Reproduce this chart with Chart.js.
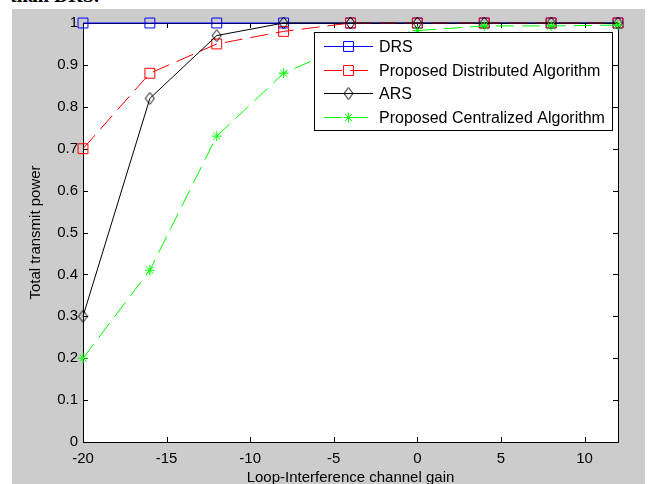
<!DOCTYPE html>
<html>
<head>
<meta charset="utf-8">
<script src="https://cdn.jsdelivr.net/npm/chart.js@4.4.1/dist/chart.umd.min.js"></script>
<style>
html, body { margin: 0; padding: 0; width: 653px; height: 484px; overflow: hidden; background: #fff; }
#caption { position: absolute; left: 10px; top: -16px; font: bold 20px "Liberation Serif", serif; color: #000; white-space: nowrap; }
#chart { position: absolute; left: 12px; top: 9px; background: #cccccc; }
</style>
</head>
<body>
<div id="caption">than DRS.</div>
<canvas id="chart" width="633" height="500"></canvas>
<script>

var xValues = [-20, -16, -12, -8, -4, 0, 4, 8, 12];
var drsPower = [1, 1, 1, 1, 1, 1, 1, 1, 1];
var distributedPower = [0.70, 0.88, 0.95, 0.98, 1, 1, 1, 1, 1];
var arsPower = [0.30, 0.82, 0.97, 1, 1, 1, 1, 1, 1];
var centralizedPower = [0.20, 0.41, 0.73, 0.88, 0.95, 0.982, 0.993, 0.993, 0.995];
var seriesNames = ['DRS', 'Proposed Distributed Algorithm', 'ARS', 'Proposed Centralized Algorithm'];

var xTicks = [-20, -15, -10, -5, 0, 5, 10];
var yTicks = [0, 0.1, 0.2, 0.3, 0.4, 0.5, 0.6, 0.7, 0.8, 0.9, 1];
var yTickLabels = ['0', '0.1', '0.2', '0.3', '0.4', '0.5', '0.6', '0.7', '0.8', '0.9', '1'];

Chart.defaults.font.family = '"Liberation Sans", Arial, sans-serif';
Chart.defaults.font.size = 15;
Chart.defaults.color = '#000';

// matlab style diamond, taller than wide
function makeDiamond() {
    var c = document.createElement('canvas');
    c.width = 11;
    c.height = 14;
    var g = c.getContext('2d');
    g.strokeStyle = '#000';
    g.lineWidth = 1;
    g.beginPath();
    g.moveTo(5.5, 1);
    g.lineTo(10, 7);
    g.lineTo(5.5, 13);
    g.lineTo(1, 7);
    g.closePath();
    g.stroke();
    return c;
}

function toPoints(values) {
    return xValues.map(function (x, i) {
        return { x: x, y: values[i] };
    });
}

function makeSeries(name, values, color, dash, style, radius, order) {
    return {
        label: name,
        data: toPoints(values),
        borderColor: color,
        borderWidth: 1,
        borderDash: dash,
        pointStyle: style,
        pointRadius: radius,
        pointBorderColor: color,
        pointBackgroundColor: 'rgba(0,0,0,0)',
        pointBorderWidth: 1,
        tension: 0,
        clip: false,
        order: order
    };
}

var plotFrame = {
    id: 'plotFrame',
    beforeDraw: function (chart) {
        var a = chart.chartArea, ctx = chart.ctx;
        ctx.save();
        ctx.fillStyle = '#ffffff';
        ctx.fillRect(a.left, a.top, a.right - a.left, a.bottom - a.top);
        ctx.restore();
    },
    beforeDatasetsDraw: function (chart) {
        var a = chart.chartArea, ctx = chart.ctx;
        var xs = chart.scales.x, ys = chart.scales.y;
        ctx.save();
        ctx.strokeStyle = '#000';
        ctx.lineWidth = 1;
        ctx.strokeRect(a.left + 0.5, a.top + 0.5, a.right - a.left, a.bottom - a.top);
        ctx.beginPath();
        xs.ticks.forEach(function (t) {
            var px = Math.round(xs.getPixelForValue(t.value)) + 0.5;
            ctx.moveTo(px, a.bottom);
            ctx.lineTo(px, a.bottom - 5);
            ctx.moveTo(px, a.top);
            ctx.lineTo(px, a.top + 5);
        });
        ys.ticks.forEach(function (t) {
            var py = Math.round(ys.getPixelForValue(t.value)) + 0.5;
            ctx.moveTo(a.left, py);
            ctx.lineTo(a.left + 5, py);
            ctx.moveTo(a.right, py);
            ctx.lineTo(a.right - 5, py);
        });
        ctx.stroke();
        ctx.restore();
    }
};

var boxLegend = {
    id: 'boxLegend',
    afterDatasetsDraw: function (chart) {
        var a = chart.chartArea, ctx = chart.ctx;
        var left = a.right - 304, top = a.top + 9, w = 298, h = 98;
        ctx.save();
        ctx.fillStyle = '#fff';
        ctx.fillRect(left, top, w, h);
        ctx.strokeStyle = '#000';
        ctx.lineWidth = 1;
        ctx.strokeRect(left + 0.5, top + 0.5, w, h);
        chart.data.datasets.forEach(function (ds, i) {
            var y = Math.round(top + 14 + i * 23.7) + 0.5;
            ctx.strokeStyle = ds.borderColor;
            ctx.setLineDash(ds.borderDash || []);
            ctx.beginPath();
            ctx.moveTo(left + 10, y);
            ctx.lineTo(left + 59, y);
            ctx.stroke();
            ctx.setLineDash([]);
            ctx.fillStyle = 'rgba(0,0,0,0)';
            Chart.helpers.drawPoint(ctx, {
                pointStyle: ds.pointStyle,
                radius: ds.pointRadius,
                borderWidth: 1,
                rotation: 0
            }, left + 34.5, y);
            ctx.fillStyle = '#000';
            ctx.font = '16px "Liberation Sans", Arial, sans-serif';
            ctx.textBaseline = 'middle';
            ctx.textAlign = 'left';
            ctx.fillText(ds.label, left + 65, y + 1);
        });
        ctx.restore();
    }
};

var ctx = document.getElementById('chart').getContext('2d');
var myChart = new Chart(ctx, {
    type: 'line',
    data: {
        datasets: [
            makeSeries(seriesNames[0], drsPower, '#0000ff', [], 'rect', 7, 3),
            makeSeries(seriesNames[1], distributedPower, '#ff0000', [18, 8], 'rect', 7, 2),
            makeSeries(seriesNames[2], arsPower, '#000000', [], makeDiamond(), 6, 1),
            makeSeries(seriesNames[3], centralizedPower, '#00ff00', [18, 8], 'star', 5, 0)
        ]
    },
    options: {
        responsive: false,
        animation: false,
        devicePixelRatio: 1,
        layout: { padding: { top: 13, right: 27, left: 0, bottom: 0 } },
        plugins: {
            legend: { display: false },
            tooltip: { enabled: false }
        },
        scales: {
            x: {
                type: 'linear',
                min: -20,
                max: 12,
                afterBuildTicks: function (s) {
                    s.ticks = xTicks.map(function (v) { return { value: v }; });
                },
                afterFit: function (s) { s.height = 67; },
                grid: { display: false, drawTicks: false },
                border: { display: false },
                ticks: { autoSkip: false, maxRotation: 0, padding: 8, color: '#000' },
                title: {
                    display: true,
                    text: 'Loop-Interference channel gain',
                    color: '#000',
                    padding: { top: 0, bottom: 22 }
                }
            },
            y: {
                min: 0,
                max: 1,
                afterBuildTicks: function (s) {
                    s.ticks = yTicks.map(function (v) { return { value: v }; });
                },
                afterFit: function (s) { s.width = 71; },
                grid: { display: false, drawTicks: false },
                border: { display: false },
                ticks: {
                    autoSkip: false,
                    padding: 5,
                    color: '#000',
                    callback: function (value, index) { return yTickLabels[index]; }
                },
                title: {
                    display: true,
                    text: 'Total transmit power',
                    color: '#000',
                    padding: { top: 15, bottom: 0 }
                }
            }
        }
    },
    plugins: [plotFrame, boxLegend]
});
</script>
</body>
</html>
